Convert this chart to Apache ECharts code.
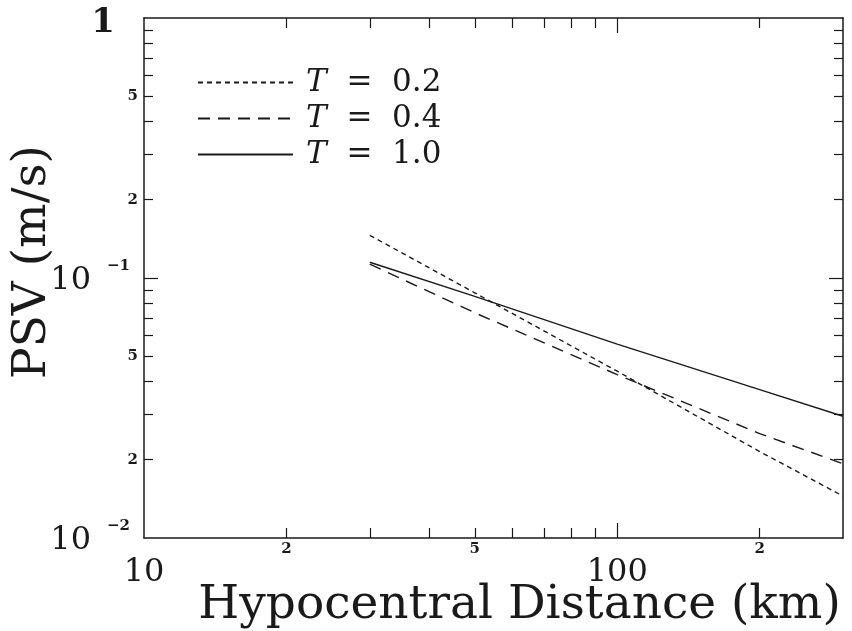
<!DOCTYPE html>
<html><head><meta charset="utf-8">
<script src="https://cdn.jsdelivr.net/npm/echarts@6/dist/echarts.min.js"></script>
<style>html,body{margin:0;padding:0;background:#fff}#c{width:852px;height:631px}</style>
</head><body><div id="c"></div>
<script>
// Data (hypocentral distance in km, PSV in m/s)
const distances = [30, 50, 100, 200, 300];
const psvT02 = [0.146, 0.0877, 0.0438, 0.0215, 0.0145];
const psvT04 = [0.113, 0.0735, 0.0425, 0.0252, 0.0193];
const psvT10 = [0.115, 0.085, 0.0557, 0.0372, 0.0294];
const seriesNames = ['T = 0.2', 'T = 0.4', 'T = 1.0'];

// Axis tick and label values
const xMinorTicks = [20, 30, 40, 50, 60, 70, 80, 90, 200];
const xMajorTicks = [100];
const xSmallLabels = [20, 50, 200];
const xBigLabels = [10, 100];
const yMinorTicks = [0.02, 0.03, 0.04, 0.05, 0.06, 0.07, 0.08, 0.09, 0.2, 0.3, 0.4, 0.5, 0.6, 0.7, 0.8, 0.9];
const yMajorTicks = [0.1];
const ySmallLabels = [0.02, 0.05, 0.2, 0.5];
const yBigLabels = [0.01, 0.1, 1];

const INK = '#1a1a1a';
const SERIF = '"DejaVu Serif", "Liberation Serif", serif';

const firstDigit = v => Number(v).toExponential(0)[0];

function xAx(o) {
  return Object.assign({
    type: 'log', min: 10, max: 300, logBase: 10,
    axisLine: { show: false, onZero: false, lineStyle: { color: INK, width: 1.5 } },
    axisTick: { show: false },
    axisLabel: { show: false },
    splitLine: { show: false }
  }, o);
}
function yAx(o) {
  return Object.assign({
    type: 'log', min: 0.01, max: 1, logBase: 10,
    axisLine: { show: false, onZero: false, lineStyle: { color: INK, width: 1.5 } },
    axisTick: { show: false },
    axisLabel: { show: false },
    splitLine: { show: false }
  }, o);
}

const chart = echarts.init(document.getElementById('c'), null, { renderer: 'canvas' });
chart.setOption({
  animation: false,
  backgroundColor: '#fff',
  color: [INK, INK, INK],
  grid: { left: 144, right: 9, top: 18, bottom: 93, containLabel: false, outerBoundsMode: 'none' },
  legend: {
    orient: 'vertical', left: 192, top: 62, itemGap: 5,
    itemWidth: 95, itemHeight: 30,
    itemStyle: { opacity: 0 },
    data: seriesNames,
    formatter: name => '{i|T}{t|  =  ' + name.split('= ')[1] + '}',
    textStyle: {
      color: INK, padding: [0, 0, 0, 8],
      rich: {
        i: { fontFamily: SERIF, fontStyle: 'italic', fontSize: 31, color: INK },
        t: { fontFamily: SERIF, fontSize: 31, color: INK }
      }
    }
  },
  xAxis: [
    xAx({ position: 'bottom',
      name: 'Hypocentral Distance (km)', nameLocation: 'middle', nameGap: 44,
      nameTextStyle: { fontFamily: SERIF, fontSize: 47, color: INK, padding: [0, 0, 0, 52] },
      axisLine: { show: true, onZero: false, lineStyle: { color: INK, width: 1.5 } },
      axisTick: { show: true, inside: true, length: 10, customValues: xMinorTicks, lineStyle: { color: INK, width: 1.2 } },
      axisLabel: { show: true, customValues: xSmallLabels, margin: 4, formatter: v => firstDigit(v),
        fontFamily: SERIF, fontWeight: 'bold', fontSize: 15, color: INK } }),
    xAx({ position: 'bottom',
      axisTick: { show: true, inside: true, length: 15, customValues: xMajorTicks, lineStyle: { color: INK, width: 1.2 } },
      axisLabel: { show: true, customValues: xBigLabels, margin: 19, formatter: v => String(Math.round(v)),
        fontFamily: SERIF, fontSize: 32, color: INK } }),
    xAx({ position: 'top',
      axisLine: { show: true, onZero: false, lineStyle: { color: INK, width: 1.5 } },
      axisTick: { show: true, inside: true, length: 10, customValues: xMinorTicks, lineStyle: { color: INK, width: 1.2 } } }),
    xAx({ position: 'top',
      axisTick: { show: true, inside: true, length: 15, customValues: xMajorTicks, lineStyle: { color: INK, width: 1.2 } } })
  ],
  yAxis: [
    yAx({ position: 'left',
      name: 'PSV (m/s)', nameLocation: 'middle', nameGap: 88, nameRotate: 90,
      nameTextStyle: { fontFamily: SERIF, fontSize: 47, color: INK, padding: [0, 0, 0, 32] },
      axisLine: { show: true, onZero: false, lineStyle: { color: INK, width: 1.5 } },
      axisTick: { show: true, inside: true, length: 9, customValues: yMinorTicks, lineStyle: { color: INK, width: 1.2 } },
      axisLabel: { show: true, customValues: ySmallLabels, margin: 6, formatter: v => firstDigit(v),
        fontFamily: SERIF, fontWeight: 'bold', fontSize: 15, color: INK } }),
    yAx({ position: 'left',
      axisTick: { show: true, inside: true, length: 14, customValues: yMajorTicks, lineStyle: { color: INK, width: 1.2 } },
      axisLabel: { show: true, customValues: yBigLabels, margin: 14,
        formatter: v => {
          const e = Math.round(Math.log10(v));
          if (e === 0) return '{one|1}';
          return '{b|10}{s|\u2212' + Math.abs(e) + '}';
        },
        rich: {
          one: { fontFamily: SERIF, fontWeight: 'bold', fontSize: 34, color: INK, padding: [10, 15, 0, 0] },
          b: { fontFamily: SERIF, fontSize: 32, color: INK, lineHeight: 38, verticalAlign: 'bottom', padding: [6, 0, 0, 0] },
          s: { fontFamily: SERIF, fontWeight: 'bold', fontSize: 15, color: INK, lineHeight: 38, verticalAlign: 'top', padding: [0, 0, 0, 16] }
        } } }),
    yAx({ position: 'right',
      axisLine: { show: true, onZero: false, lineStyle: { color: INK, width: 1.5 } },
      axisTick: { show: true, inside: true, length: 9, customValues: yMinorTicks, lineStyle: { color: INK, width: 1.2 } } }),
    yAx({ position: 'right',
      axisTick: { show: true, inside: true, length: 14, customValues: yMajorTicks, lineStyle: { color: INK, width: 1.2 } } })
  ],
  series: [
    { name: seriesNames[0], type: 'line', xAxisIndex: 0, yAxisIndex: 0, symbol: 'none',
      data: distances.map((d, i) => [d, psvT02[i]]),
      itemStyle: { color: INK },
      lineStyle: { color: INK, width: 1.4, type: [5, 4] } },
    { name: seriesNames[1], type: 'line', xAxisIndex: 0, yAxisIndex: 0, symbol: 'none',
      data: distances.map((d, i) => [d, psvT04[i]]),
      itemStyle: { color: INK },
      lineStyle: { color: INK, width: 1.4, type: [12, 8] } },
    { name: seriesNames[2], type: 'line', xAxisIndex: 0, yAxisIndex: 0, symbol: 'none',
      data: distances.map((d, i) => [d, psvT10[i]]),
      itemStyle: { color: INK },
      lineStyle: { color: INK, width: 1.4, type: 'solid' } }
  ]
});
</script>
</body></html>
